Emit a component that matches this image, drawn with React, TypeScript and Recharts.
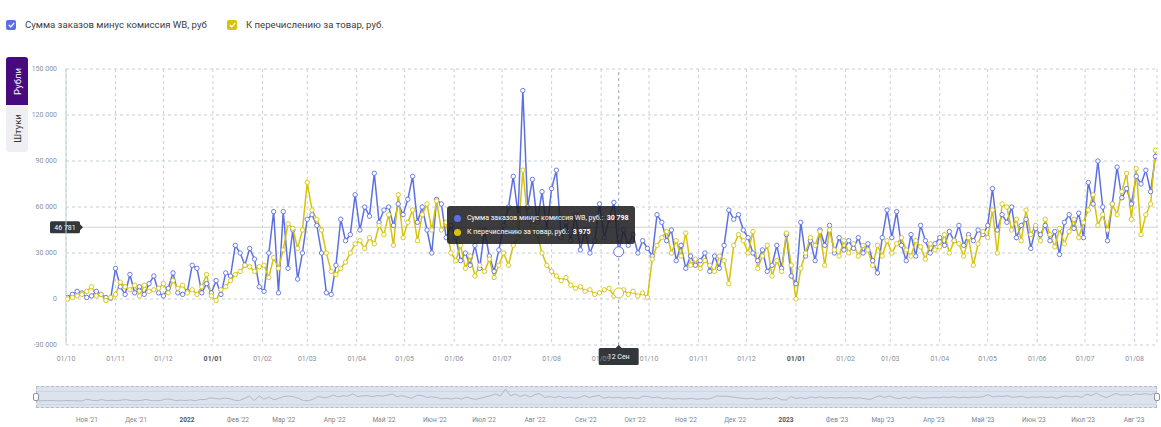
import {
  LineChart,
  Line,
  XAxis,
  YAxis,
  CartesianGrid,
  Tooltip,
  ReferenceLine,
} from 'recharts';

/* ================= DATA ================= */
// days counted from 01.10.2021, one reading every 3 days starting 02.10.2021
const FIRST_DAY = 1;
const STEP_DAYS = 3;
const LAST_DAY = 683;
const ACTIVE_INDEX = 115; // 12 Sep 2022

// Сумма заказов минус комиссия WB, тыс. руб
const ordersK = [
  1, 3, 5, 4, 1, 2, 5, 3, 1, 0.5,
  20, 8, 3, 16, 4, 8, 3, 10, 15, 4,
  2, 7, 17, 4, 3, 5, 22, 20, 4, 10,
  4, 12, 3, 17, 15, 35, 30, 22, 33, 26, 8,
  5, 30, 57, 4, 57, 20, 45, 13, 30, 52,
  55, 48, 30, 4, 3, 22, 52, 38, 42, 68,
  45, 60, 54, 82, 50, 58, 60, 48, 62, 55,
  65, 80, 50, 60, 45, 30, 65, 62, 40, 48,
  40, 25, 30, 22, 35, 20, 45, 28, 18, 32,
  48, 60, 80, 55, 136, 60, 78, 50, 70, 45,
  72, 84, 40, 50, 38, 55, 32, 45, 30, 38, 62,
  40, 52, 63, 30.798, 45, 35, 42, 30, 38, 33,
  28, 55, 50, 38, 45, 25, 35, 20, 28, 22,
  25, 30, 18, 28, 20, 35, 58, 52, 55, 45,
  40, 30, 25, 32, 18, 22, 35, 20, 42, 15,
  10, 50, 28, 38, 25, 45, 35, 48, 30, 40, 32,
  38, 33, 40, 30, 36, 25, 17, 40, 58,
  40, 57, 35, 25, 42, 28, 48, 38, 30, 36,
  40, 35, 44, 38, 48, 35, 42, 38, 45, 42,
  48, 72, 45, 55, 50, 60, 40, 48, 52, 33,
  46, 42, 48, 38, 44, 29, 50, 55, 46, 56,
  40, 76, 62, 90, 60, 38, 62, 86, 66, 72, 62, 80, 75, 84, 70, 93,
];

// К перечислению за товар, тыс. руб
const payoutK = [
  0, 1, 2, 3, 5, 8, 2, 3, -1, 1,
  3, 11, 8, 6, 9, 2, 9, 5, 6, 7,
  10, 4, 12, 7, 9, 4, 6, 3, 8, 16,
  2, -1, 6, 8, 12, 16, 18, 22, 21, 18, 21,
  22, 14, 27, 20, 32, 49, 46, 33, 45, 76,
  58, 52, 45, 30, 18, 16, 20, 24, 30, 36,
  38, 33, 40, 36, 48, 42, 55, 35, 68, 40,
  50, 58, 38, 55, 62, 45, 64, 45, 50, 30,
  25, 35, 20, 28, 15, 22, 18, 26, 14, 22,
  30, 22, 35, 40, 84, 52, 48, 42, 30, 22,
  18, 15, 12, 14, 9, 7, 8, 5, 6, 3, 4,
  6, 7, 2, 3.975, 6, 3, 5, 2, 4, 1,
  26, 35, 40, 44, 30, 38, 28, 43, 22, 26,
  20, 25, 22, 18, 28, 25, 10, 35, 42, 38,
  30, 44, 20, 28, 35, 15, 25, 18, 43, 22,
  0, 20, 30, 40, 35, 44, 22, 45, 32, 28, 38,
  30, 36, 28, 35, 32, 22, 35, 28, 38,
  30, 36, 40, 32, 28, 38, 34, 26, 36, 32,
  34, 42, 30, 38, 36, 28, 40, 22, 36, 44,
  40, 58, 30, 62, 60, 45, 52, 38, 58, 42,
  48, 38, 52, 42, 34, 46, 36, 44, 52, 40,
  50, 58, 68, 48, 55, 45, 62, 55, 70, 82, 52, 85, 42, 55, 62, 97,
];

const monthTicks = [
  0, 31, 61, 92, 123, 151, 182, 212, 243, 273, 304, 335,
  365, 396, 426, 457, 488, 516, 547, 577, 608, 638, 669,
];
const monthLabels = [
  '01/10', '01/11', '01/12', '01/01', '01/02', '01/03', '01/04', '01/05', '01/06', '01/07', '01/08', '01/09',
  '01/10', '01/11', '01/12', '01/01', '01/02', '01/03', '01/04', '01/05', '01/06', '01/07', '01/08',
];
const navLabels = [
  '', "Ноя '21", "Дек '21", '2022', "Фев '22", "Мар '22", "Апр '22", "Май '22", "Июн '22", "Июл '22", "Авг '22", "Сен '22",
  "Окт '22", "Ноя '22", "Дек '22", '2023', "Фев '23", "Мар '23", "Апр '23", "Май '23", "Июн '23", "Июл '23", "Авг '23",
];
const yTicks = [-30000, 0, 30000, 60000, 90000, 120000, 150000];
const crosshairValue = 46781;
const crosshairDate = '12 Сен';

const BLUE = '#5d70e3';
const YELLOW = '#d6c30c';
const FONT = 'Roboto, "Open Sans", sans-serif';

const chartData = ordersK.map((v, i) => ({
  day: FIRST_DAY + i * STEP_DAYS,
  orders: Math.round(v * 1000),
  payout: Math.round(payoutK[i] * 1000),
}));

/* ================= HELPERS ================= */
const fmt = (v: number) =>
  String(Math.round(v)).replace(/\B(?=(\d{3})+(?!\d))/g, ' ');

/* ================= CUSTOM PARTS ================= */
const DayTick = (props: any) => {
  const { x, y, payload, index } = props;
  const label = monthLabels[monthTicks.indexOf(payload.value)] ?? '';
  const bold = label === '01/01';
  return (
    <text
      x={x}
      y={y + 8}
      textAnchor="middle"
      fontSize={7}
      fontFamily={FONT}
      fontWeight={bold ? 700 : 400}
      fill={bold ? '#555b63' : '#8b9099'}
      key={index}
    >
      {label}
    </text>
  );
};

const NavTick = (props: any) => {
  const { x, y, payload } = props;
  const label = navLabels[monthTicks.indexOf(payload.value)] ?? '';
  const bold = label === '2022' || label === '2023';
  return (
    <text
      x={x}
      y={y + 6}
      textAnchor="middle"
      fontSize={6.5}
      fontFamily={FONT}
      fontWeight={bold ? 700 : 400}
      fill={bold ? '#50565e' : '#7d838c'}
    >
      {label}
    </text>
  );
};

const ValueLabel = (props: any) => {
  const { viewBox } = props;
  if (!viewBox) return null;
  const x = viewBox.x - 16;
  const y = viewBox.y;
  return (
    <g>
      <rect x={x} y={y - 6} width={30} height={12} rx={1.5} fill="#33363a" />
      <path d={`M${x + 30} ${y - 3} L${x + 33} ${y} L${x + 30} ${y + 3} Z`} fill="#33363a" />
      <text x={x + 15} y={y + 2.5} textAnchor="middle" fontSize={7} fontFamily={FONT} fill="#fff">
        {fmt(crosshairValue)}
      </text>
    </g>
  );
};

const DateLabel = (props: any) => {
  const { viewBox } = props;
  if (!viewBox) return null;
  const cx = viewBox.x;
  const top = viewBox.y + viewBox.height + 3;
  return (
    <g>
      <path d={`M${cx - 3} ${top} L${cx} ${top - 3} L${cx + 3} ${top} Z`} fill="#33363a" />
      <rect x={cx - 20} y={top} width={40} height={17} rx={1.5} fill="#33363a" />
      <text x={cx} y={top + 11} textAnchor="middle" fontSize={7} fontFamily={FONT} fill="#fff">
        {crosshairDate}
      </text>
    </g>
  );
};

const ChartTooltip = ({ active, payload }: any) => {
  if (!active || !payload || payload.length === 0) return null;
  return (
    <div
      style={{
        background: 'rgba(28,28,30,0.86)',
        borderRadius: 3,
        padding: '5px 7px',
        fontFamily: FONT,
        fontSize: 7,
        color: '#fff',
        whiteSpace: 'nowrap',
      }}
    >
      {payload.map((p: any) => (
        <div key={p.dataKey} style={{ display: 'flex', alignItems: 'center', height: 14 }}>
          <span
            style={{
              width: 7,
              height: 7,
              borderRadius: '50%',
              background: p.color,
              marginRight: 6,
              display: 'inline-block',
            }}
          />
          <span>{p.name}:&nbsp;&nbsp;</span>
          <b>{fmt(p.value)}</b>
        </div>
      ))}
    </div>
  );
};

const LegendItem = ({ color, text, left }: { color: string; text: string; left: number }) => (
  <div style={{ position: 'absolute', left, top: 19, display: 'flex', alignItems: 'center' }}>
    <div
      style={{
        width: 10,
        height: 10,
        borderRadius: 2,
        background: color,
        display: 'flex',
        alignItems: 'center',
        justifyContent: 'center',
      }}
    >
      <svg width="7" height="6" viewBox="0 0 7 6">
        <path d="M0.8 3 L2.8 4.8 L6.2 1" stroke="#fff" strokeWidth="1.2" fill="none" />
      </svg>
    </div>
    <span style={{ marginLeft: 9, fontSize: 9.6, color: '#3a3d42', fontFamily: FONT, whiteSpace: 'nowrap' }}>{text}</span>
  </div>
);

/* ================= COMPONENT ================= */
export default function App() {
  return (
    <div style={{ position: 'relative', width: 1161, height: 427, background: '#fff', fontFamily: FONT }}>
      <style>{'body{margin:0;}'}</style>

      <LegendItem color={BLUE} text="Сумма заказов минус комиссия WB, руб" left={6} />
      <LegendItem color={YELLOW} text="К перечислению за товар, руб." left={227} />

      {/* unit switch */}
      <div
        style={{
          position: 'absolute',
          left: 6,
          top: 57,
          width: 22,
          height: 48,
          background: '#48097f',
          borderRadius: '3px 3px 0 0',
          display: 'flex',
          alignItems: 'center',
          justifyContent: 'center',
        }}
      >
        <span style={{ transform: 'rotate(-90deg)', color: '#fff', fontSize: 9.5, whiteSpace: 'nowrap' }}>Рубли</span>
      </div>
      <div
        style={{
          position: 'absolute',
          left: 6,
          top: 105,
          width: 22,
          height: 47,
          background: '#eeeef3',
          borderRadius: '0 0 3px 3px',
          display: 'flex',
          alignItems: 'center',
          justifyContent: 'center',
        }}
      >
        <span style={{ transform: 'rotate(-90deg)', color: '#33363a', fontSize: 9.5, whiteSpace: 'nowrap' }}>Штуки</span>
      </div>

      {/* main chart */}
      <div style={{ position: 'absolute', left: 0, top: 0 }}>
        <LineChart
          width={1161}
          height={370}
          data={chartData}
          margin={{ top: 69, right: 4, bottom: 0, left: 0 }}
        >
          <CartesianGrid stroke="#c9d0d8" strokeDasharray="3 3" />
          <XAxis
            type="number"
            dataKey="day"
            domain={[0, LAST_DAY]}
            ticks={monthTicks}
            interval={0}
            tick={<DayTick />}
            axisLine={false}
            tickLine={false}
            height={25}
            allowDataOverflow
          />
          <YAxis
            domain={[-30000, 150000]}
            ticks={yTicks}
            interval={0}
            width={66}
            tickFormatter={fmt}
            tick={{ fontSize: 7, fill: '#8b9099', fontFamily: FONT }}
            tickLine={false}
            tickMargin={3}
            axisLine={{ stroke: '#c3cfdc' }}
            allowDataOverflow
          />
          <ReferenceLine y={crosshairValue} stroke="#d3d3d3" label={<ValueLabel />} />
          <ReferenceLine x={chartData[ACTIVE_INDEX].day} stroke="#9ba5af" strokeDasharray="3 3" label={<DateLabel />} />
          <Line
            type="linear"
            dataKey="orders"
            name="Сумма заказов минус комиссия WB, руб."
            stroke={BLUE}
            strokeWidth={1.5}
            dot={{ r: 2.2, fill: '#fff', stroke: BLUE, strokeWidth: 0.9 }}
            activeDot={{ r: 5, fill: '#fff', stroke: BLUE, strokeWidth: 1 }}
            isAnimationActive={false}
          />
          <Line
            type="linear"
            dataKey="payout"
            name="К перечислению за товар, руб."
            stroke={YELLOW}
            strokeWidth={1.5}
            dot={{ r: 2.2, fill: '#fff', stroke: YELLOW, strokeWidth: 0.9 }}
            activeDot={{ r: 5, fill: '#fff', stroke: YELLOW, strokeWidth: 1 }}
            isAnimationActive={false}
          />
          <Tooltip
            active
            defaultIndex={ACTIVE_INDEX}
            position={{ x: 447, y: 206 }}
            content={<ChartTooltip />}
            cursor={false}
            isAnimationActive={false}
          />
        </LineChart>
      </div>

      {/* navigator */}
      <div
        style={{
          position: 'absolute',
          left: 36,
          top: 386,
          width: 1121,
          height: 22,
          background: '#dde3ee',
          border: '1px dashed #b3bdca',
          boxSizing: 'border-box',
        }}
      >
        <div style={{ position: 'absolute', left: 0, right: 0, top: 4, height: 12, borderTop: '1px solid #cfd6e1', borderBottom: '1px solid #cfd6e1' }} />
      </div>
      <div style={{ position: 'absolute', left: 36, top: 386 }}>
        <LineChart width={1121} height={40} data={chartData} margin={{ top: 0, right: 0, bottom: 0, left: 0 }}>
          <XAxis
            type="number"
            dataKey="day"
            domain={[0, LAST_DAY]}
            ticks={monthTicks.slice(1)}
            interval={0}
            tick={<NavTick />}
            axisLine={false}
            tickLine={false}
            height={18}
          />
          <YAxis hide domain={[-80000, 170000]} />
          <Line
            type="linear"
            dataKey="orders"
            stroke="#a5aebd"
            strokeWidth={0.8}
            dot={false}
            activeDot={false}
            isAnimationActive={false}
          />
        </LineChart>
      </div>
      {[33, 1154].map((l) => (
        <div
          key={l}
          style={{
            position: 'absolute',
            left: l,
            top: 393,
            width: 6,
            height: 8,
            background: '#fff',
            border: '1px solid #8a939f',
            borderRadius: 2,
            boxSizing: 'border-box',
          }}
        />
      ))}
    </div>
  );
}
